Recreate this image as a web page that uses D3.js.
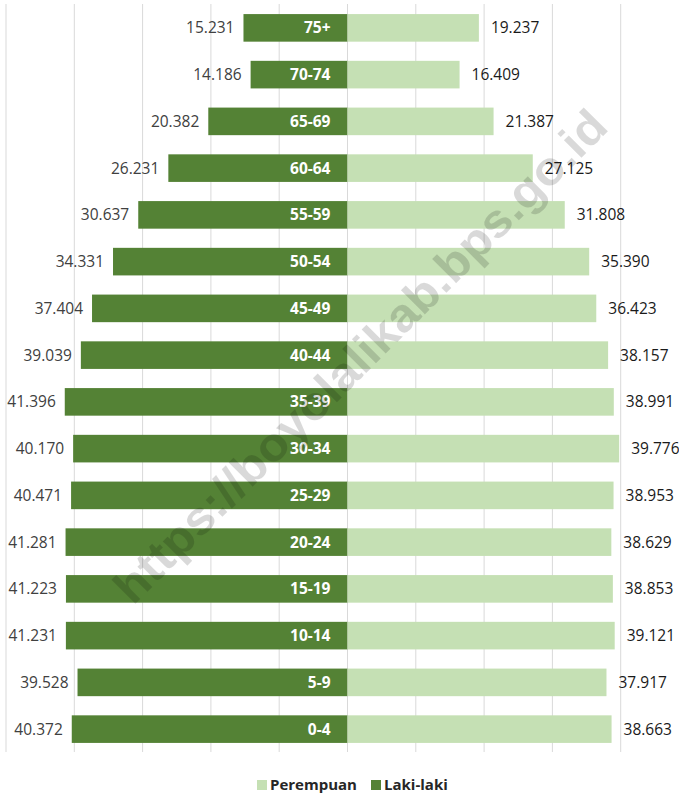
<!DOCTYPE html>
<html lang="en">
<head>
<meta charset="utf-8">
<title>Piramida Penduduk</title>
<script src="https://cdn.jsdelivr.net/npm/d3@7"></script>
<style>
  body { margin: 0; overflow: hidden; background: #fff; }
  text { font-family: "Open Sans", "Noto Sans", sans-serif; }
  .grid line { stroke: #d9d9d9; stroke-width: 1; }
  .val-m { font-size: 15.5px; fill: #404040; }
  .val-f { font-size: 15.5px; fill: #1a1a1a; }
  .age { font-size: 15.5px; font-weight: 700; fill: #fff; }
  .legend text { font-size: 15px; font-weight: 700; fill: #262626; }
  .watermark { font-family: "Liberation Sans", Arial, sans-serif; font-weight: 700; font-size: 47px; fill: #000; fill-opacity: 0.15; }
</style>
</head>
<body>
<script>
// age groups, top to bottom
const ages = ["75+", "70-74", "65-69", "60-64", "55-59", "50-54", "45-49", "40-44",
              "35-39", "30-34", "25-29", "20-24", "15-19", "10-14", "5-9", "0-4"];
const lakiLaki = [15231, 14186, 20382, 26231, 30637, 34331, 37404, 39039,
                  41396, 40170, 40471, 41281, 41223, 41231, 39528, 40372];
const perempuan = [19237, 16409, 21387, 27125, 31808, 35390, 36423, 38157,
                   38991, 39776, 38953, 38629, 38853, 39121, 37917, 38663];
const gridTicks = [-50000, -40000, -30000, -20000, -10000, 0, 10000, 20000, 30000, 40000, 50000];
const legendItems = ["Perempuan", "Laki-laki"];

const width = 679, height = 797;
const colM = "#548235", colF = "#c5e0b4";

const fmt = v => d3.format(",")(v).replace(/,/g, ".");

const x = d3.scaleLinear().domain([-50000, 50000]).range([6, 689]);
const y = d3.scaleBand().domain(ages).range([4.5, 752.5])
  .paddingInner(0.41).paddingOuter(0.205);

const svg = d3.select("body").append("svg")
  .attr("width", width).attr("height", height);

// vertical gridlines
svg.append("g").attr("class", "grid")
  .selectAll("line").data(gridTicks).enter().append("line")
  .attr("x1", d => x(d)).attr("x2", d => x(d))
  .attr("y1", 4).attr("y2", 752);

// male bars (left)
svg.append("g").selectAll("rect").data(ages).enter().append("rect")
  .attr("x", (d, i) => x(-lakiLaki[i]))
  .attr("y", d => y(d))
  .attr("width", (d, i) => x(0) - x(-lakiLaki[i]))
  .attr("height", y.bandwidth())
  .attr("fill", colM);

// female bars (right)
svg.append("g").selectAll("rect").data(ages).enter().append("rect")
  .attr("x", x(0))
  .attr("y", d => y(d))
  .attr("width", (d, i) => x(perempuan[i]) - x(0))
  .attr("height", y.bandwidth())
  .attr("fill", colF);

const mid = d => y(d) + y.bandwidth() / 2;

// age labels inside male bars
svg.append("g").selectAll("text").data(ages).enter().append("text")
  .attr("class", "age")
  .attr("x", x(0) - 17)
  .attr("y", d => mid(d))
  .attr("dy", "0.36em")
  .attr("text-anchor", "end")
  .text(d => d);

// value labels
svg.append("g").selectAll("text").data(ages).enter().append("text")
  .attr("class", "val-m")
  .attr("x", (d, i) => x(-lakiLaki[i]) - 9)
  .attr("y", d => mid(d))
  .attr("dy", "0.36em")
  .attr("text-anchor", "end")
  .text((d, i) => fmt(lakiLaki[i]));

svg.append("g").selectAll("text").data(ages).enter().append("text")
  .attr("class", "val-f")
  .attr("x", (d, i) => x(perempuan[i]) + 12)
  .attr("y", d => mid(d))
  .attr("dy", "0.36em")
  .text((d, i) => fmt(perempuan[i]));

// legend
const legend = svg.append("g").attr("class", "legend");
const legX = [257, 371];
legend.selectAll("rect").data(legendItems).enter().append("rect")
  .attr("x", (d, i) => legX[i]).attr("y", 780)
  .attr("width", 10).attr("height", 10)
  .attr("fill", (d, i) => i === 0 ? colF : colM);
legend.selectAll("text").data(legendItems).enter().append("text")
  .attr("x", (d, i) => legX[i] + 13).attr("y", 785)
  .attr("dy", "0.36em")
  .text(d => d);

// watermark
svg.append("text")
  .attr("class", "watermark")
  .attr("text-anchor", "middle")
  .attr("transform", "translate(360,356) rotate(-45)")
  .attr("dy", "0.35em")
  .attr("textLength", 675)
  .attr("lengthAdjust", "spacingAndGlyphs")
  .text("https://boyolalikab.bps.go.id");
</script>
</body>
</html>
